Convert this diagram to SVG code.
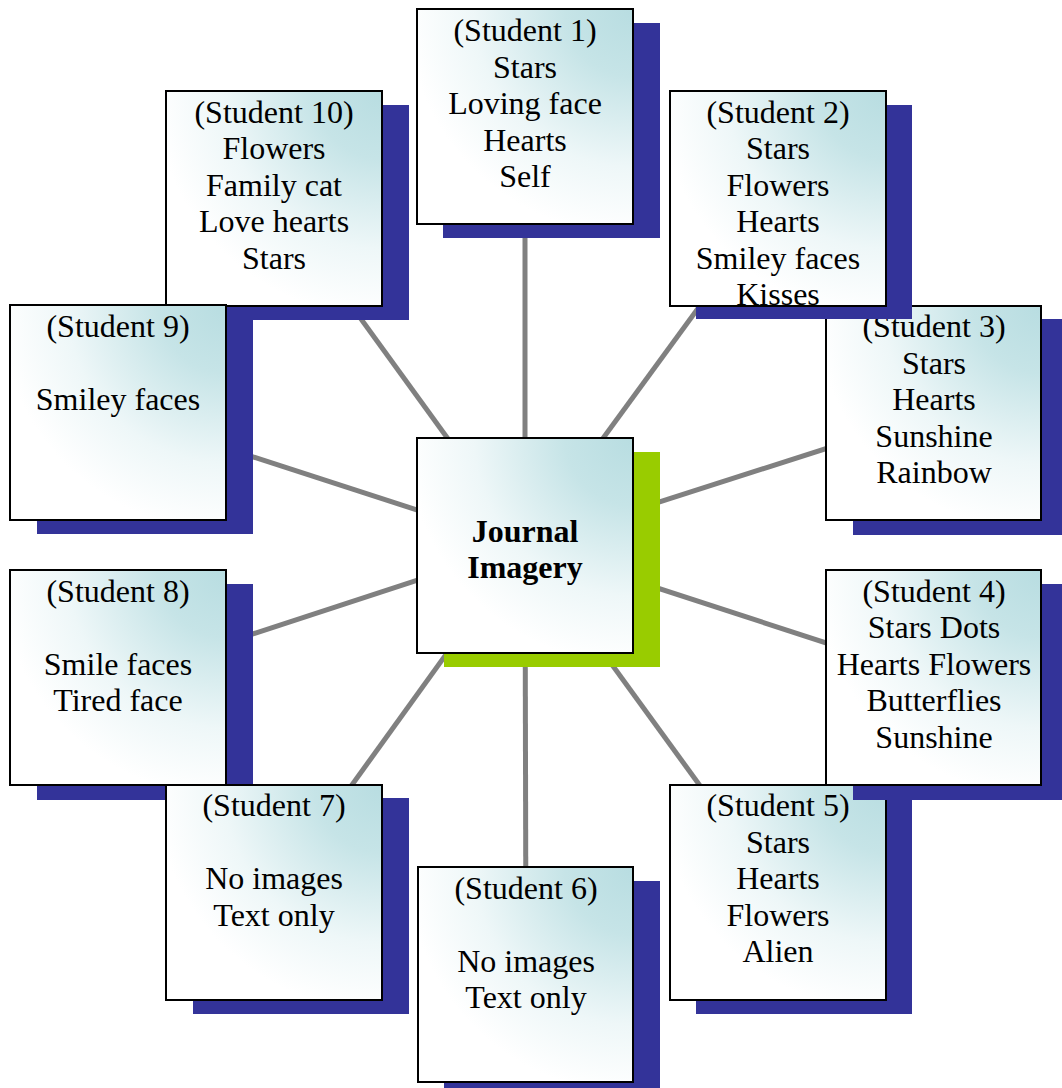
<svg xmlns="http://www.w3.org/2000/svg" width="1062" height="1088" viewBox="0 0 1062 1088">
  <defs>
    <!-- soft teal wash that fades from the top-right corner -->
    <radialGradient id="wash" cx="1" cy="0" r="1.05" fx="1" fy="0" gradientUnits="objectBoundingBox">
      <stop offset="0" stop-color="#B8DDE1"/>
      <stop offset="0.3" stop-color="#C6E4E7"/>
      <stop offset="0.7" stop-color="#EEF7F8"/>
      <stop offset="1" stop-color="#FFFFFF"/>
    </radialGradient>
    <style>
      .box { fill: url(#wash); stroke: #000; stroke-width: 2; }
      .shadow { fill: #333399; }
      .hub-shadow { fill: #99CC00; }
      .conn { stroke: #808080; stroke-width: 5; fill: none; }
      text { font-family: "Liberation Serif", "Times New Roman", serif; font-size: 32px; fill: #000; text-anchor: middle; }
      .hub { font-weight: bold; }
    </style>
  </defs>
  <rect width="1062" height="1088" fill="#FFFFFF"/>

  <!-- spokes from the hub to every student box -->
  <g id="connectors">
    <line class="conn" x1="525" y1="545" x2="525" y2="117"/>
    <line class="conn" x1="525" y1="545" x2="778" y2="199"/>
    <line class="conn" x1="525" y1="545" x2="934" y2="414"/>
    <line class="conn" x1="525" y1="545" x2="934" y2="678"/>
    <line class="conn" x1="525" y1="545" x2="778" y2="893"/>
    <line class="conn" x1="525" y1="545" x2="526" y2="975"/>
    <line class="conn" x1="525" y1="545" x2="274" y2="893"/>
    <line class="conn" x1="525" y1="545" x2="118" y2="678"/>
    <line class="conn" x1="525" y1="545" x2="118" y2="413"/>
    <line class="conn" x1="525" y1="545" x2="274" y2="199"/>
  </g>

  <g id="student10">
    <rect class="shadow" x="193" y="105" width="216" height="215"/>
    <rect class="box" x="166" y="91" width="216" height="215"/>
    <text x="274" y="122.5">(Student 10)</text>
    <text x="274" y="159">Flowers</text>
    <text x="274" y="195.5">Family cat</text>
    <text x="274" y="232">Love hearts</text>
    <text x="274" y="268.5">Stars</text>
  </g>

  <g id="student9">
    <rect class="shadow" x="37" y="320" width="216" height="214"/>
    <rect class="box" x="10" y="305" width="216" height="215"/>
    <text x="118" y="336.5">(Student 9)</text>
    <text x="118" y="409.5">Smiley faces</text>
  </g>

  <g id="student8">
    <rect class="shadow" x="37" y="584" width="216" height="216"/>
    <rect class="box" x="10" y="570" width="216" height="215"/>
    <text x="118" y="601.5">(Student 8)</text>
    <text x="118" y="674.5">Smile faces</text>
    <text x="118" y="711">Tired face</text>
  </g>

  <g id="student7">
    <rect class="shadow" x="193" y="798" width="216" height="216"/>
    <rect class="box" x="166" y="785" width="216" height="215"/>
    <text x="274" y="816">(Student 7)</text>
    <text x="274" y="889">No images</text>
    <text x="274" y="925.5">Text only</text>
  </g>

  <g id="student6">
    <rect class="shadow" x="444" y="881" width="216" height="215"/>
    <rect class="box" x="418" y="867" width="215" height="215"/>
    <text x="526" y="898.5">(Student 6)</text>
    <text x="526" y="971.5">No images</text>
    <text x="526" y="1008">Text only</text>
  </g>

  <g id="student5">
    <rect class="shadow" x="696" y="798" width="216" height="216"/>
    <rect class="box" x="670" y="785" width="216" height="215"/>
    <text x="778" y="816">(Student 5)</text>
    <text x="778" y="852.5">Stars</text>
    <text x="778" y="889">Hearts</text>
    <text x="778" y="925.5">Flowers</text>
    <text x="778" y="962">Alien</text>
  </g>

  <g id="student4">
    <rect class="shadow" x="853" y="584" width="216" height="216"/>
    <rect class="box" x="826" y="570" width="215" height="215"/>
    <text x="934" y="601.5">(Student 4)</text>
    <text x="934" y="638">Stars Dots</text>
    <text x="934" y="674.5">Hearts Flowers</text>
    <text x="934" y="711">Butterflies</text>
    <text x="934" y="747.5">Sunshine</text>
  </g>

  <g id="student3">
    <rect class="shadow" x="853" y="319" width="216" height="216"/>
    <rect class="box" x="826" y="306" width="215" height="214"/>
    <text x="934" y="337">(Student 3)</text>
    <text x="934" y="373.5">Stars</text>
    <text x="934" y="410">Hearts</text>
    <text x="934" y="446.5">Sunshine</text>
    <text x="934" y="483">Rainbow</text>
  </g>

  <g id="student2">
    <rect class="shadow" x="696" y="105" width="216" height="214"/>
    <rect class="box" x="670" y="91" width="216" height="215"/>
    <text x="778" y="122.5">(Student 2)</text>
    <text x="778" y="159">Stars</text>
    <text x="778" y="195.5">Flowers</text>
    <text x="778" y="232">Hearts</text>
    <text x="778" y="268.5">Smiley faces</text>
    <text x="778" y="305">Kisses</text>
  </g>

  <g id="student1">
    <rect class="shadow" x="443" y="23" width="217" height="215"/>
    <rect class="box" x="417" y="9" width="216" height="215"/>
    <text x="525" y="41">(Student 1)</text>
    <text x="525" y="77.5">Stars</text>
    <text x="525" y="114">Loving face</text>
    <text x="525" y="150.5">Hearts</text>
    <text x="525" y="187">Self</text>
  </g>

  <g id="hub">
    <rect class="hub-shadow" x="444" y="452" width="216" height="215"/>
    <rect class="box" x="417" y="438" width="216" height="215"/>
    <text class="hub" x="525" y="541.5">Journal</text>
    <text class="hub" x="525" y="578">Imagery</text>
  </g>
</svg>
